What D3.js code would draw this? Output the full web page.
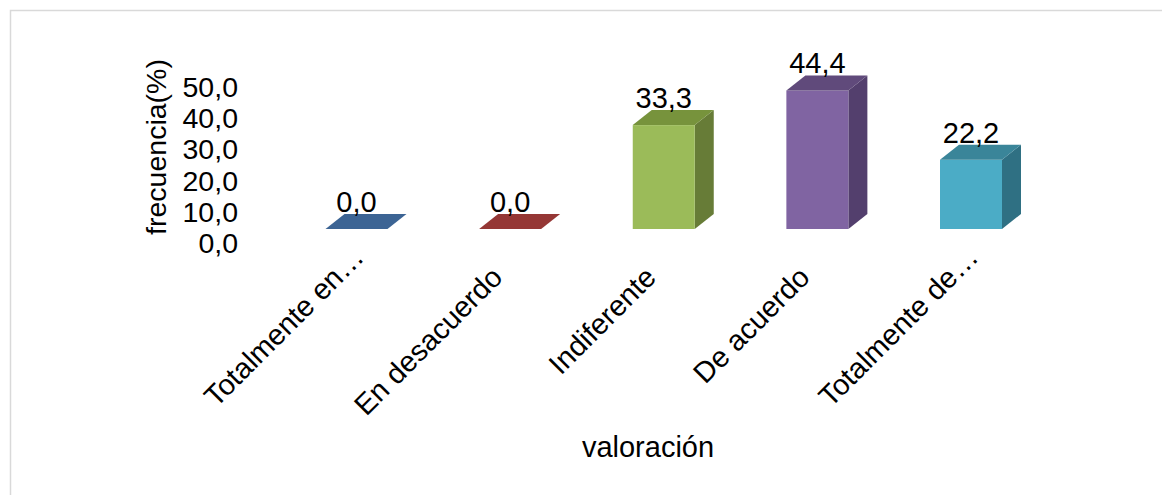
<!DOCTYPE html>
<html>
<head>
<meta charset="utf-8">
<script src="https://cdn.jsdelivr.net/npm/d3@7"></script>
<style>
  html, body { margin: 0; padding: 0; background: #fff; }
  svg { display: block; }
  text { font-family: "Liberation Sans", Arial, sans-serif; fill: #000; }
</style>
</head>
<body>
<svg id="chart" width="1162" height="495"></svg>
<script>
const categories = ["Totalmente en desacuerdo", "En desacuerdo", "Indiferente", "De acuerdo", "Totalmente de acuerdo"];
const shownLabels = ["Totalmente en…", "En desacuerdo", "Indiferente", "De acuerdo", "Totalmente de…"];
const values = [0.0, 0.0, 33.3, 44.4, 22.2];
const yTicks = [0, 10, 20, 30, 40, 50];
const frontColors = ["#4f81bd", "#c0504d", "#9bbb59", "#8064a2", "#4bacc6"];
const sideColors  = ["#2c4d75", "#772c2a", "#677c37", "#533f6d", "#2f7083"];
const topColors   = ["#3c6494", "#953735", "#77933c", "#604a7b", "#3a8599"];

const svg = d3.select("#chart");
const W = 1162, H = 495;

// chart border
svg.append("rect")
  .attr("x", 10.5).attr("y", 10.5)
  .attr("width", W + 20).attr("height", H + 20)
  .attr("fill", "#fff").attr("stroke", "#d9d9d9").attr("stroke-width", 1.5);

const x = d3.scalePoint().domain(categories).range([356.5, 971]);
const y = d3.scaleLinear().domain([0, 50]).range([229, 73]);
const barW = 62, depthX = 19, depthY = -15;
const fontSize = 29;

const fmt = v => d3.format(".1f")(v).replace(".", ",");

// y tick labels
svg.append("g").selectAll("text").data(yTicks).join("text")
  .attr("x", 238)
  .attr("y", d => y(d) + 14)
  .attr("dy", "0.35em")
  .attr("text-anchor", "end")
  .attr("font-size", 28.5)
  .text(d => fmt(d));

// y axis title
svg.append("text")
  .attr("transform", "translate(166,147) rotate(-90)")
  .attr("text-anchor", "middle")
  .attr("font-size", 28.5)
  .text("frecuencia(%)");

// bars
const bars = svg.append("g").selectAll("g").data(categories).join("g");
bars.each(function(c, i) {
  const g = d3.select(this);
  const cx = x(c), x0 = cx - barW / 2, x1 = cx + barW / 2;
  const yb = y(0), yt = y(values[i]);
  if (values[i] > 0) {
    // side face
    g.append("path")
      .attr("d", `M${x1},${yt} L${x1 + depthX},${yt + depthY} L${x1 + depthX},${yb + depthY} L${x1},${yb} Z`)
      .attr("fill", sideColors[i]);
    // front face
    g.append("rect")
      .attr("x", x0).attr("y", yt).attr("width", barW).attr("height", yb - yt)
      .attr("fill", frontColors[i]);
  }
  // top face
  g.append("path")
    .attr("d", `M${x0},${yt} L${x0 + depthX},${yt + depthY} L${x1 + depthX},${yt + depthY} L${x1},${yt} Z`)
    .attr("fill", topColors[i]);
  // data label
  g.append("text")
    .attr("x", cx)
    .attr("y", yt + depthY - 2)
    .attr("text-anchor", "middle")
    .attr("font-size", fontSize)
    .text(fmt(values[i]));
});

// category labels
svg.append("g").selectAll("text").data(categories).join("text")
  .attr("transform", (c, i) => {
    const truncated = shownLabels[i].endsWith("…");
    const ax = x(c) - 6 + (truncated ? 15 : 0);
    const ay = 279 - (truncated ? 20 : 0);
    return `translate(${ax},${ay}) rotate(-45)`;
  })
  .attr("text-anchor", "end")
  .attr("font-size", fontSize)
  .text((c, i) => shownLabels[i]);

// x axis title
svg.append("text")
  .attr("x", 648).attr("y", 457)
  .attr("text-anchor", "middle")
  .attr("font-size", fontSize)
  .text("valoración");
</script>
</body>
</html>
